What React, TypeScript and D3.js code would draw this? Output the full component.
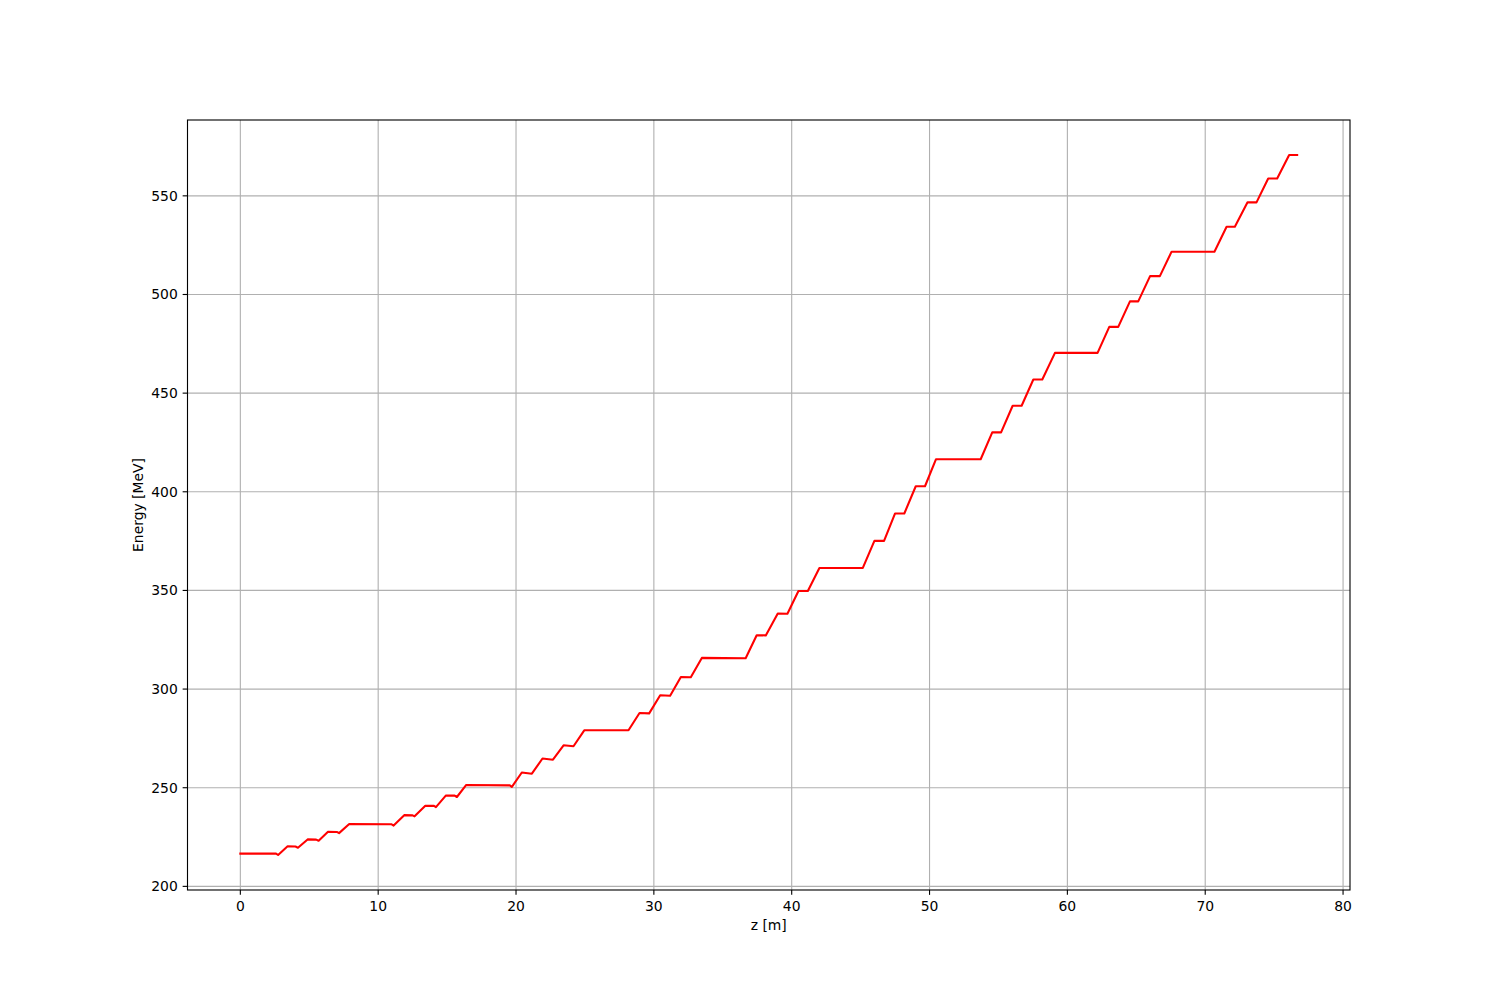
import React from "react";
import * as d3 from "d3";

const zValues: number[] = [
  0, 2.59, 2.74, 3.43, 4.0, 4.18, 4.88, 5.5, 5.68, 6.36, 7.0, 7.16, 7.9, 10.95, 11.12,
  11.89, 12.5, 12.64, 13.42, 14.05, 14.19, 14.92, 15.55, 15.71, 16.39, 19.55, 19.7,
  20.42, 21.15, 21.92, 22.68, 23.45, 24.17, 24.95, 28.16, 28.96, 29.66, 30.46, 31.18,
  31.96, 32.68, 33.48, 36.66, 37.46, 38.12, 38.99, 39.69, 40.49, 41.17, 42.01, 45.16,
  46.0, 46.7, 47.5, 48.17, 49.0, 49.67, 50.47, 53.71, 54.55, 55.19, 56.03, 56.68,
  57.53, 58.18, 59.1, 62.19, 63.04, 63.69, 64.54, 65.14, 66.0, 66.71, 67.56, 70.67,
  71.55, 72.15, 73.07, 73.72, 74.57, 75.22, 76.09, 76.67,
];

const energyValues: number[] = [
  216.6, 216.6, 215.9, 220.3, 220.2, 219.6, 223.8, 223.7, 223.1, 227.7, 227.6, 227.0,
  231.6, 231.5, 230.8, 236.1, 236.0, 235.5, 240.9, 240.8, 240.2, 246.1, 246.0, 245.3,
  251.4, 251.2, 250.4, 257.7, 257.1, 264.8, 264.2, 271.5, 271.0, 279.1, 279.1, 287.9,
  287.7, 296.9, 296.6, 306.1, 306.0, 315.8, 315.6, 327.3, 327.2, 338.3, 338.2, 349.7,
  349.7, 361.4, 361.4, 375.1, 375.1, 389.0, 389.0, 402.8, 402.8, 416.5, 416.5, 430.1,
  430.1, 443.6, 443.6, 456.9, 456.9, 470.4, 470.4, 483.6, 483.6, 496.5, 496.5, 509.3,
  509.3, 521.7, 521.7, 534.3, 534.3, 546.7, 546.7, 558.8, 558.8, 570.7, 570.7,
];

const xTicks: number[] = [0, 10, 20, 30, 40, 50, 60, 70, 80];
const yTicks: number[] = [200, 250, 300, 350, 400, 450, 500, 550];
const xLabel = "z [m]";
const yLabel = "Energy [MeV]";

const W = 1500;
const H = 1000;
const L = 187.5;
const R = 1350;
const T = 120;
const B = 890;
const FONT = "'DejaVu Sans', sans-serif";
const TICK = 4.86;

export default function App() {
  const zMin = d3.min(zValues)!;
  const zMax = d3.max(zValues)!;
  const eMin = d3.min(energyValues)!;
  const eMax = d3.max(energyValues)!;
  const zPad = (zMax - zMin) * 0.05;
  const ePad = (eMax - eMin) * 0.05;
  const x = d3.scaleLinear().domain([zMin - zPad, zMax + zPad]).range([L, R]);
  const y = d3.scaleLinear().domain([eMin - ePad, eMax + ePad]).range([B, T]);

  const pts: [number, number][] = zValues.map((z, i) => [z, energyValues[i]]);
  const line = d3
    .line<[number, number]>()
    .x((d) => x(d[0]))
    .y((d) => y(d[1]));

  return (
    <svg
      width={W}
      height={H}
      style={{ position: "absolute", left: 0, top: 0, background: "#fff" }}
      fontFamily={FONT}
    >
      <rect x={0} y={0} width={W} height={H} fill="#fff" />
      <defs>
        <clipPath id="plotclip">
          <rect x={L} y={T} width={R - L} height={B - T} />
        </clipPath>
      </defs>
      {/* grid */}
      <g stroke="#b0b0b0" strokeWidth={1.11}>
        {xTicks.map((t) => (
          <line key={"gx" + t} x1={x(t)} x2={x(t)} y1={T} y2={B} />
        ))}
        {yTicks.map((t) => (
          <line key={"gy" + t} x1={L} x2={R} y1={y(t)} y2={y(t)} />
        ))}
      </g>
      <path
        d={line(pts) || ""}
        fill="none"
        stroke="#ff0000"
        strokeWidth={2.08}
        strokeLinejoin="round"
        strokeLinecap="square"
        clipPath="url(#plotclip)"
      />
      {/* spines */}
      <rect
        x={L}
        y={T}
        width={R - L}
        height={B - T}
        fill="none"
        stroke="#000"
        strokeWidth={1.11}
      />
      {/* x ticks */}
      <g>
        {xTicks.map((t) => (
          <g key={"xt" + t}>
            <line x1={x(t)} x2={x(t)} y1={B} y2={B + TICK} stroke="#000" strokeWidth={1.11} />
            <text x={x(t)} y={B + TICK + 4.86 + 10.8} textAnchor="middle" fontSize={13.9} fill="#000">
              {t}
            </text>
          </g>
        ))}
      </g>
      {/* y ticks */}
      <g>
        {yTicks.map((t) => (
          <g key={"yt" + t}>
            <line x1={L - TICK} x2={L} y1={y(t)} y2={y(t)} stroke="#000" strokeWidth={1.11} />
            <text
              x={L - TICK - 4.86}
              y={y(t)}
              dy="0.36em"
              textAnchor="end"
              fontSize={13.9}
              fill="#000"
            >
              {t}
            </text>
          </g>
        ))}
      </g>
      <text x={(L + R) / 2} y={930} textAnchor="middle" fontSize={13.9} fill="#000">
        {xLabel}
      </text>
      <text
        x={0}
        y={0}
        transform={`translate(142.5, ${(T + B) / 2}) rotate(-90)`}
        textAnchor="middle"
        fontSize={13.9}
        fill="#000"
      >
        {yLabel}
      </text>
    </svg>
  );
}
